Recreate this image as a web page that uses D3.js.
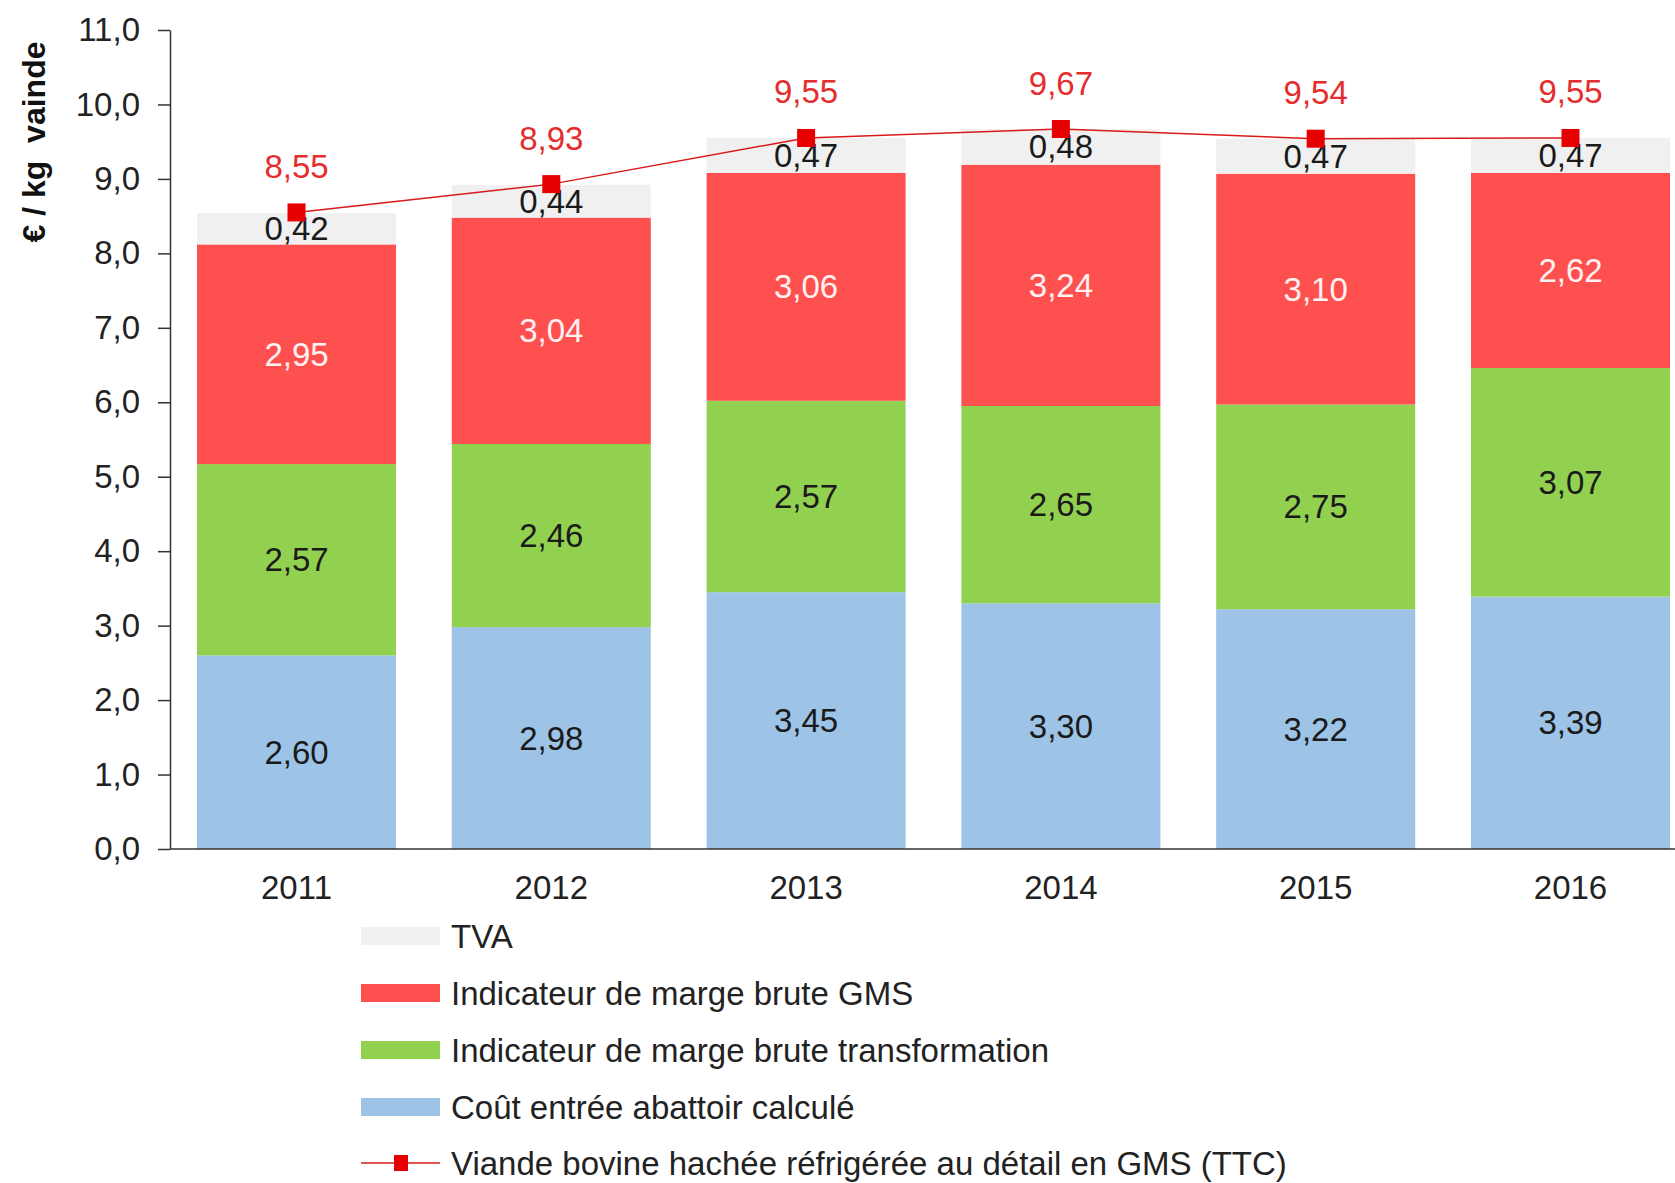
<!DOCTYPE html>
<html>
<head>
<meta charset="utf-8">
<script src="https://cdn.jsdelivr.net/npm/d3@7"></script>
<style>
body { margin: 0; background: #fff; }
text { font-family: "Liberation Sans", Arial, sans-serif; }
</style>
</head>
<body>
<div id="wrapper"></div>
<script>
// data
const years = ["2011", "2012", "2013", "2014", "2015", "2016"]
const coutAbattoir = [2.60, 2.98, 3.45, 3.30, 3.22, 3.39]
const margeTransfo = [2.57, 2.46, 2.57, 2.65, 2.75, 3.07]
const margeGms = [2.95, 3.04, 3.06, 3.24, 3.10, 2.62]
const tva = [0.42, 0.44, 0.47, 0.48, 0.47, 0.47]
const prixDetail = [8.55, 8.93, 9.55, 9.67, 9.54, 9.55]
const yTicks = [0, 1, 2, 3, 4, 5, 6, 7, 8, 9, 10, 11]
const legendLabels = [
    "TVA",
    "Indicateur de marge brute GMS",
    "Indicateur de marge brute transformation",
    "Coût entrée abattoir calculé",
    "Viande bovine hachée réfrigérée au détail en GMS (TTC)",
]

const keys = ["cout", "transfo", "gms", "tva"]
const colors = { cout: "#9DC3E6", transfo: "#92D050", gms: "#FF5050", tva: "#F0F0F0" }
const labelColors = { cout: "#1a1a1a", transfo: "#1a1a1a", gms: "#FFF2F2", tva: "#1a1a1a" }

let dimensions = {
    width: 1675,
    height: 1183,
    margin: { top: 30, left: 170 },
}
const axisBottom = 849
const fontSize = 33
const fmt = v => d3.format(".2f")(v).replace(".", ",")

const rows = years.map((y, i) => ({
    year: y,
    cout: coutAbattoir[i],
    transfo: margeTransfo[i],
    gms: margeGms[i],
    tva: tva[i],
}))

const svg = d3.select("#wrapper")
    .append("svg")
    .attr("width", dimensions.width)
    .attr("height", dimensions.height)

const xScale = d3.scaleBand()
    .domain(years)
    .range([dimensions.margin.left, 1697])
    .paddingInner(0.219)
    .paddingOuter(0.106)

const yScale = d3.scaleLinear()
    .domain([0, 11])
    .range([axisBottom, dimensions.margin.top])

const stacked = d3.stack().keys(keys)(rows)

// bars
const layers = svg.append("g")
    .selectAll("g")
    .data(stacked)
    .enter()
    .append("g")
    .attr("fill", d => colors[d.key])

layers.selectAll("rect")
    .data(d => d)
    .enter()
    .append("rect")
    .attr("x", d => xScale(d.data.year))
    .attr("y", d => yScale(d[1]))
    .attr("width", xScale.bandwidth())
    .attr("height", d => yScale(d[0]) - yScale(d[1]))

// segment labels
svg.append("g")
    .selectAll("g")
    .data(stacked)
    .enter()
    .append("g")
    .attr("fill", d => labelColors[d.key])
    .selectAll("text")
    .data(d => d)
    .enter()
    .append("text")
    .attr("x", d => xScale(d.data.year) + xScale.bandwidth() / 2)
    .attr("y", d => yScale((d[0] + d[1]) / 2))
    .attr("text-anchor", "middle")
    .attr("dominant-baseline", "central")
    .style("font-size", fontSize + "px")
    .text(d => fmt(d[1] - d[0]))

// y axis
const yAxis = d3.axisLeft(yScale)
    .tickValues(yTicks)
    .tickSize(12)
    .tickSizeOuter(0)
    .tickPadding(18)
    .tickFormat(d => d3.format(".1f")(d).replace(".", ","))

const yAxisGroup = svg.append("g")
    .attr("transform", `translate(${dimensions.margin.left},0)`)
    .call(yAxis)
yAxisGroup.selectAll("path, line").attr("stroke", "#333").attr("stroke-width", 1.5)
yAxisGroup.selectAll("text")
    .attr("fill", "#222")
    .style("font-size", fontSize + "px")
    .style("font-family", '"Liberation Sans", Arial, sans-serif')

// x axis
svg.append("line")
    .attr("x1", dimensions.margin.left)
    .attr("x2", dimensions.width)
    .attr("y1", axisBottom)
    .attr("y2", axisBottom)
    .attr("stroke", "#333")
    .attr("stroke-width", 1.5)

svg.append("g")
    .selectAll("text")
    .data(years)
    .enter()
    .append("text")
    .attr("x", d => xScale(d) + xScale.bandwidth() / 2)
    .attr("y", axisBottom + 38)
    .attr("text-anchor", "middle")
    .attr("dominant-baseline", "central")
    .attr("fill", "#222")
    .style("font-size", fontSize + "px")
    .text(d => d)

// y axis title
svg.append("text")
    .attr("transform", "translate(34,142) rotate(-90)")
    .attr("text-anchor", "middle")
    .attr("dominant-baseline", "central")
    .attr("fill", "#111")
    .style("font-size", "32px")
    .style("font-weight", "bold")
    .style("white-space", "pre")
    .text("€ / kg  vainde")

// price line
const lineData = years.map((y, i) => ({ year: y, value: prixDetail[i] }))
const cx = d => xScale(d.year) + xScale.bandwidth() / 2

svg.append("path")
    .datum(lineData)
    .attr("fill", "none")
    .attr("stroke", "#D91A1A")
    .attr("stroke-width", 1.5)
    .attr("d", d3.line().x(cx).y(d => yScale(d.value)))

svg.append("g")
    .selectAll("rect")
    .data(lineData)
    .enter()
    .append("rect")
    .attr("x", d => cx(d) - 9)
    .attr("y", d => yScale(d.value) - 9)
    .attr("width", 18)
    .attr("height", 18)
    .attr("fill", "#E60000")

svg.append("g")
    .selectAll("text")
    .data(lineData)
    .enter()
    .append("text")
    .attr("x", cx)
    .attr("y", d => yScale(d.value) - 46)
    .attr("text-anchor", "middle")
    .attr("dominant-baseline", "central")
    .attr("fill", "#E42E2E")
    .style("font-size", fontSize + "px")
    .text(d => fmt(d.value))

// legend
const legendKeys = ["tva", "gms", "transfo", "cout", "line"]
const legendY = [936, 993, 1050, 1107, 1163]
const legend = svg.append("g")
    .selectAll("g")
    .data(legendKeys)
    .enter()
    .append("g")
    .attr("transform", (d, i) => `translate(361,${legendY[i]})`)

legend.filter(d => d !== "line")
    .append("rect")
    .attr("x", 0)
    .attr("y", -9)
    .attr("width", 79)
    .attr("height", 18)
    .attr("fill", d => colors[d])

const lineItem = legend.filter(d => d === "line")
lineItem.append("line")
    .attr("x1", 0).attr("x2", 79)
    .attr("stroke", "#D91A1A")
    .attr("stroke-width", 1.5)
lineItem.append("rect")
    .attr("x", 33).attr("y", -8)
    .attr("width", 14).attr("height", 16)
    .attr("fill", "#E60000")

legend.append("text")
    .attr("x", 90)
    .attr("dominant-baseline", "central")
    .attr("fill", "#222")
    .style("font-size", fontSize + "px")
    .text((d, i) => legendLabels[i])
</script>
</body>
</html>
